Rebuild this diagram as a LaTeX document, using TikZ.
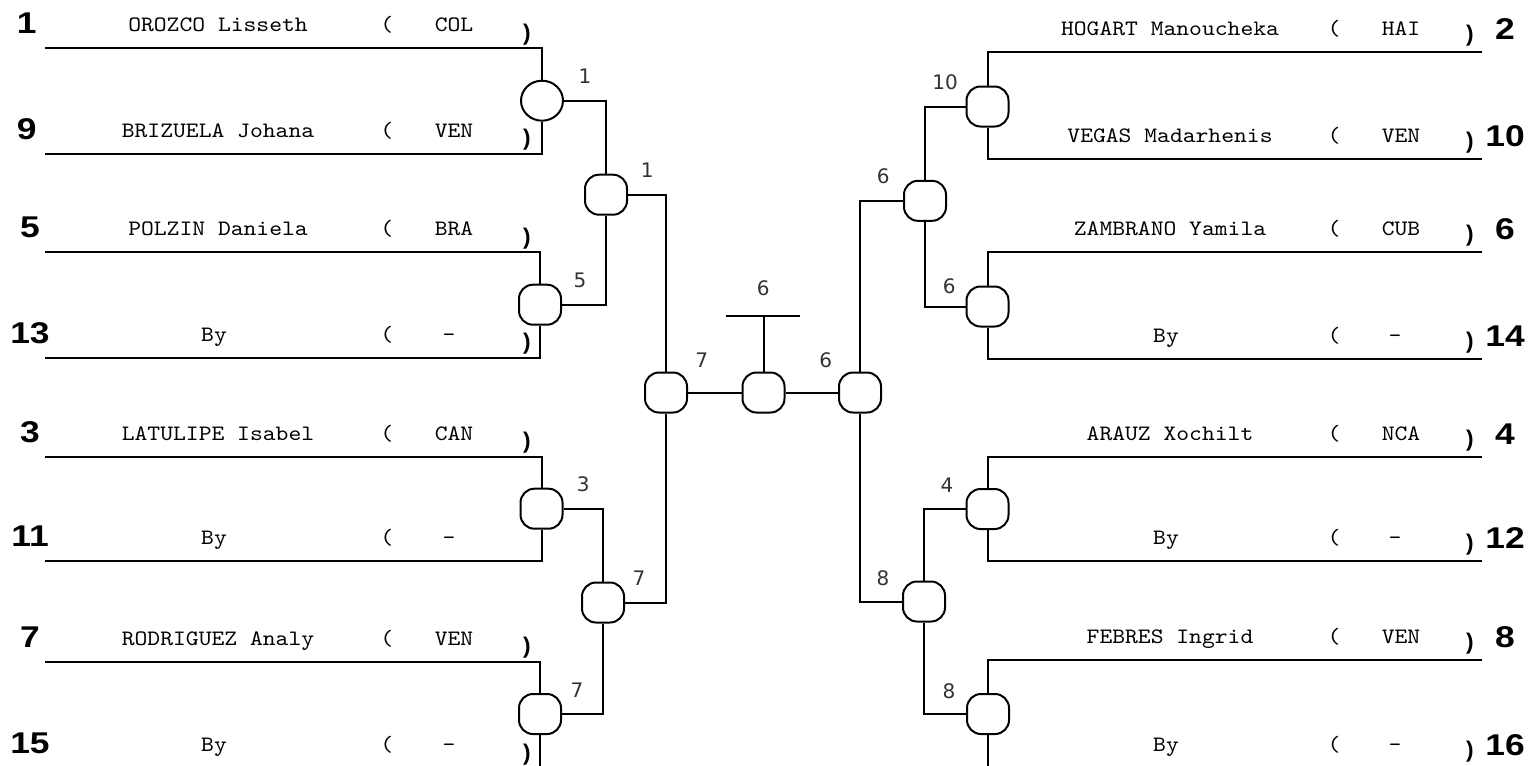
\documentclass[tikz,border=0pt]{standalone}
\usepackage{fontspec}
\usetikzlibrary{shapes.geometric,calc}
\newfontfamily\namefont{lmmono10-regular.otf}[FakeStretch=1.11]
\newfontfamily\seedfont{Liberation Sans}[FakeStretch=1.18]
\newfontfamily\parfont{Liberation Sans}
\newfontfamily\labfont{DejaVu Sans}
\tikzset{
 wire/.style={line width=1.5pt},
 mbox/.style={draw, line width=1.5pt, rounded corners=10.5pt, minimum width=31.5pt, minimum height=30pt, inner sep=0pt, fill=white},
 mell/.style={draw, ellipse, line width=1.5pt, minimum width=31.5pt, minimum height=30pt, inner sep=0pt, fill=white},
 nametxt/.style={font=\namefont\fontsize{16.5}{16.5}\selectfont, anchor=base, inner sep=0pt},
 seedtxt/.style={font=\seedfont\bfseries\fontsize{22.5}{22.5}\selectfont, anchor=base, inner sep=0pt},
 partxt/.style={font=\parfont\bfseries\fontsize{17}{17}\selectfont, inner sep=0pt},
 labtxt/.style={font=\labfont\fontsize{15}{15}\selectfont, text=black!80, inner sep=0pt},
}
\begin{document}
\begin{tikzpicture}[x=0.75pt,y=-0.75pt]
\useasboundingbox (0,0) rectangle (1531,765);
% left entries
\foreach \s/\sx/\nm/\nx/\cc/\ccx/\ly in {
 1/26.7/OROZCO Lisseth/218/COL/454/48,
 9/26.7/BRIZUELA Johana/218/VEN/454/153.5,
 5/30/POLZIN Daniela/218/BRA/454/252,
 13/30/By/214/-/449/357.5,
 3/30/LATULIPE Isabel/218/CAN/454/456.5,
 11/30/By/214/-/449/561,
 7/30/RODRIGUEZ Analy/218/VEN/454/661.5,
 15/30/By/214/-/449/768}{
 \coordinate (L\s) at (45,\ly);
 \node[seedtxt] (sL\s) at (\sx,\ly-14.5) {\s};
 \node[nametxt] (nL\s) at (\nx,\ly-16.5) {\nm};
 \node[nametxt] (oL\s) at (386.7,\ly-16.5) {(};
 \node[nametxt] (cL\s) at (\ccx,\ly-16.5) {\cc};
}
\foreach \s/\ly in {1/48, 9/153.5, 5/252, 13/357.5, 3/456.5, 7/661.5, 15/768}{
 \node[partxt] (pL\s) at (527,\ly-13.5) {)};
}
% right entries
\foreach \s/\nm/\nx/\cc/\ccx/\ly in {
 2/HOGART Manoucheka/1170/HAI/1401/51.7,
 10/VEGAS Madarhenis/1170/VEN/1401/159.3,
 6/ZAMBRANO Yamila/1170/CUB/1401/252.3,
 14/By/1166/-/1395/359,
 4/ARAUZ Xochilt/1170/NCA/1401/457,
 12/By/1166/-/1395/561,
 8/FEBRES Ingrid/1170/VEN/1401/660,
 16/By/1166/-/1395/768}{
 \coordinate (R\s) at (1482,\ly);
 \node[seedtxt] (sR\s) at (1505,\ly-12.5) {\s};
 \node[nametxt] (nR\s) at (\nx,\ly-16.7) {\nm};
 \node[nametxt] (oR\s) at (1334,\ly-16.7) {(};
 \node[nametxt] (cR\s) at (\ccx,\ly-16.7) {\cc};
 \node[partxt] (pR\s) at (1470,\ly-16.5) {)};
}
% boxes
\node[mell] (C1) at (542,100.7) {};
\node[mbox] (B5) at (540,304.7) {};
\node[mbox] (B3) at (541.5,508.7) {};
\node[mbox] (B7) at (540,714) {};
\node[mbox] (Q1) at (606,194.7) {};
\node[mbox] (Q7) at (603,602.5) {};
\node[mbox] (S7) at (666,392.5) {};
\node[mbox] (F) at (763.5,392.5) {};
\node[mbox] (S6) at (860,392.5) {};
\node[mbox] (Q6) at (925,200.8) {};
\node[mbox] (Q8) at (924,601.5) {};
\node[mbox] (B10) at (987.5,106.5) {};
\node[mbox] (B6) at (987.5,306.5) {};
\node[mbox] (B4) at (987.5,509) {};
\node[mbox] (B8) at (988,714) {};
% connectors left
\draw[wire] (L1) -| (C1.north);
\draw[wire] (L9) -| (C1.south);
\draw[wire] (L5) -| (B5.north);
\draw[wire] (L13) -| (B5.south);
\draw[wire] (L3) -| (B3.north);
\draw[wire] (L11) -| (B3.south);
\draw[wire] (L7) -| (B7.north);
\draw[wire] (L15) -| (B7.south);
\draw[wire] (C1.east) -| (Q1.north);
\draw[wire] (B5.east) -| (Q1.south);
\draw[wire] (B3.east) -| (Q7.north);
\draw[wire] (B7.east) -| (Q7.south);
\draw[wire] (Q1.east) -| (S7.north);
\draw[wire] (Q7.east) -| (S7.south);
% final
\draw[wire] (S7.east) -- (F.west);
\draw[wire] (F.east) -- (S6.west);
\coordinate (Ta) at (725.7,315.7);
\coordinate (Tb) at (800.3,315.7);
\draw[wire] (Ta) -- (Tb);
\draw[wire] (F.north) -- (F.north |- Ta);
% connectors right
\draw[wire] (R2) -| (B10.north);
\draw[wire] (R10) -| (B10.south);
\draw[wire] (R6) -| (B6.north);
\draw[wire] (R14) -| (B6.south);
\draw[wire] (R4) -| (B4.north);
\draw[wire] (R12) -| (B4.south);
\draw[wire] (R8) -| (B8.north);
\draw[wire] (R16) -| (B8.south);
\draw[wire] (B10.west) -| (Q6.north);
\draw[wire] (B6.west) -| (Q6.south);
\draw[wire] (B4.west) -| (Q8.north);
\draw[wire] (B8.west) -| (Q8.south);
\draw[wire] (Q6.west) -| (S6.north);
\draw[wire] (Q8.west) -| (S6.south);
% labels
\node[labtxt] (lC1) at (585,76.7) {1};
\node[labtxt] (lB5) at (580,280) {5};
\node[labtxt] (lB3) at (583.3,484) {3};
\node[labtxt] (lB7) at (577,690) {7};
\node[labtxt] (lQ1) at (647.3,170) {1};
\node[labtxt] (lQ7) at (639,578) {7};
\node[labtxt] (lS7) at (701.7,360) {7};
\node[labtxt] (lF) at (763.3,288) {6};
\node[labtxt] (lS6) at (825.7,360) {6};
\node[labtxt] (lQ6) at (883.3,176.7) {6};
\node[labtxt] (lQ8) at (883,578) {8};
\node[labtxt] (lB10) at (945,82.7) {10};
\node[labtxt] (lB6) at (949.3,286.7) {6};
\node[labtxt] (lB4) at (947,485) {4};
\node[labtxt] (lB8) at (949,691) {8};
\end{tikzpicture}
\end{document}
